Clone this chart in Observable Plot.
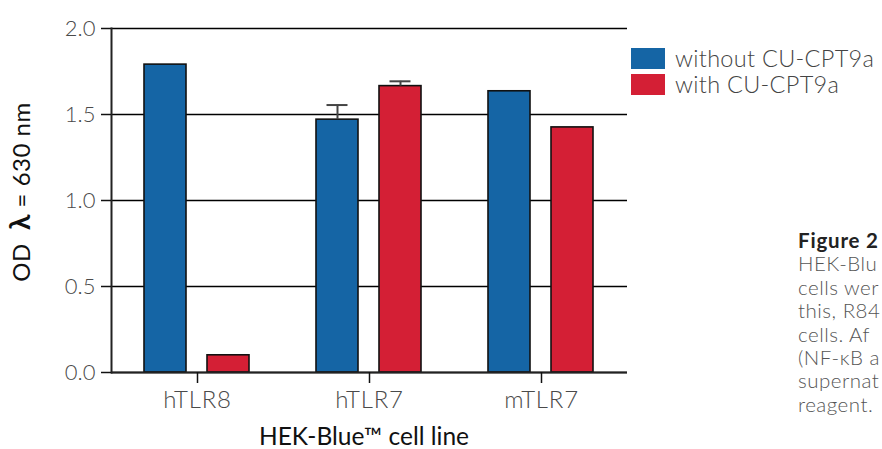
<!DOCTYPE html>
<html><head><meta charset="utf-8">
<script src="https://cdn.jsdelivr.net/npm/d3@7"></script>
<script src="https://cdn.jsdelivr.net/npm/@observablehq/plot@0.6"></script>
<style>
html,body{margin:0;padding:0;overflow:hidden;background:#fff;width:882px;height:449px}
#wrap{position:relative;width:882px;height:449px;overflow:hidden;font-family:Lato,sans-serif}
#wrap svg{position:absolute;left:0;top:0}
svg [aria-label="y-axis tick label"] text, svg [aria-label="fx-axis tick label"] text{fill:#4a4a4a;font-weight:300}
svg [aria-label="fx-axis tick label"] text{letter-spacing:0.8px}
.legend{position:absolute;left:631px;top:45px}
.legend .row{display:flex;align-items:center;height:26px;margin-bottom:0px}
.legend .sw{width:34px;height:21px;margin-right:10px}
.legend .lab{font-size:23.5px;font-weight:300;color:#444;line-height:22px;white-space:nowrap;letter-spacing:0.3px}
.caption{position:absolute;left:798px;top:229px;font-size:20.5px;line-height:23.4px;color:#555;white-space:nowrap;font-weight:300;letter-spacing:0.5px}
.caption b{color:#222;font-weight:700;font-size:20.5px;letter-spacing:0.8px}
</style></head><body><div id="wrap"></div>
<script>
const cellLines = ["hTLR8", "hTLR7", "mTLR7"];
const conditions = ["without CU-CPT9a", "with CU-CPT9a"];
const withoutValues = [1.79, 1.47, 1.635];
const withValues = [0.10, 1.665, 1.425];
const withoutErrors = [0, 0.085, 0];
const withErrors = [0, 0.028, 0];
const yTicks = [0, 0.5, 1.0, 1.5, 2.0];
const colors = ["#1565a5", "#d41f35"];
const yLabel = ["OD  ", "λ", " = 630 nm"];
const xLabel = "HEK-Blue™ cell line";
const captionTitle = "Figure 2";
const captionLines = ["HEK-Blu", "cells wer", "this, R84", "cells.  Af", "(NF-κB a", "supernat", "reagent."];

const data = [];
cellLines.forEach((c, i) => {
  data.push({cell: c, cond: conditions[0], value: withoutValues[i], err: withoutErrors[i]});
  data.push({cell: c, cond: conditions[1], value: withValues[i], err: withErrors[i]});
});
const errs = data.filter(d => d.err > 0);

const plot = Plot.plot({
  width: 882, height: 449,
  marginLeft: 110, marginRight: 255, marginTop: 28, marginBottom: 77,
  style: {fontFamily: "Lato, sans-serif", background: "transparent", overflow: "visible"},
  fx: {domain: cellLines, padding: 0, label: null, axis: null},
  x: {domain: conditions, paddingInner: 0.328, paddingOuter: 0.508, axis: null},
  y: {domain: [0, 2], axis: null},
  color: {domain: conditions, range: colors},
  marks: [
    Plot.gridY(yTicks, {stroke: "#000", strokeOpacity: 1, strokeWidth: 1.5}),
    Plot.barY(data, {fx: "cell", x: "cond", y: "value", fill: "cond", stroke: "#111", strokeWidth: 1.6}),
    Plot.ruleX(errs, {fx: "cell", x: "cond", y1: "value", y2: d => d.value + d.err, stroke: "#444", strokeWidth: 2}),
    Plot.tickY(errs, {fx: "cell", x: "cond", y: d => d.value + d.err, stroke: "#444", strokeWidth: 2, insetLeft: 10.5, insetRight: 10.5}),
    Plot.ruleY([0], {stroke: "#222", strokeWidth: 2}),
    Plot.frame({anchor: "left", facetAnchor: "left", stroke: "#222", strokeWidth: 2}),
    Plot.axisY(yTicks, {tickSize: 10, tickPadding: 6, tickFormat: d3.format(".1f"), fontSize: 22, stroke: "#111", strokeWidth: 1.5, label: null}),
    Plot.axisFx({anchor: "bottom", tickSize: 11, tickPadding: 7, fontSize: 24, stroke: "#111", strokeWidth: 1.5, label: null})
  ]
});
const wrap = document.getElementById("wrap");
wrap.appendChild(plot);

const svg = d3.select(plot);
const yl = svg.append("text")
  .attr("transform", "translate(30,192) rotate(-90)")
  .attr("text-anchor", "middle")
  .attr("font-size", 24).attr("fill", "#111").attr("font-family", "Lato, sans-serif")
  .attr("letter-spacing", 0.5);
yl.append("tspan").text(yLabel[0]);
yl.append("tspan").text(yLabel[1]).attr("font-weight", 700).attr("font-size", 28);
yl.append("tspan").text(yLabel[2]);
svg.append("text")
  .attr("x", 364).attr("y", 445)
  .attr("text-anchor", "middle")
  .attr("font-size", 24.5).attr("fill", "#111").attr("font-family", "Lato, sans-serif")
  .text(xLabel);

// legend
const leg = document.createElement("div");
leg.className = "legend";
conditions.forEach((c, i) => {
  const row = document.createElement("div"); row.className = "row";
  const sw = document.createElement("div"); sw.className = "sw"; sw.style.background = colors[i];
  const lab = document.createElement("div"); lab.className = "lab"; lab.textContent = c;
  row.appendChild(sw); row.appendChild(lab); leg.appendChild(row);
});
wrap.appendChild(leg);

// caption
const cap = document.createElement("div");
cap.className = "caption";
const title = document.createElement("b"); title.textContent = captionTitle;
cap.appendChild(title);
captionLines.forEach(t => { cap.appendChild(document.createElement("br")); cap.appendChild(document.createTextNode(t)); });
wrap.appendChild(cap);
</script></body></html>
